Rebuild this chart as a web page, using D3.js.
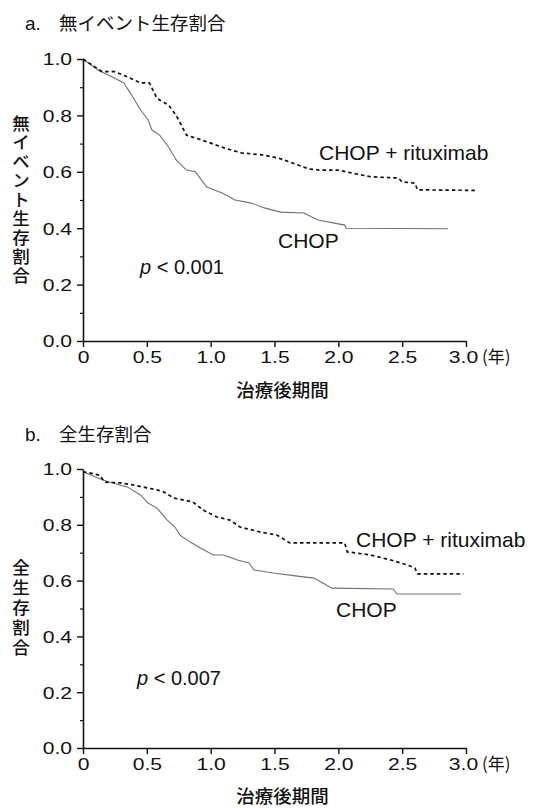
<!DOCTYPE html>
<html>
<head>
<meta charset="utf-8">
<script src="https://cdn.jsdelivr.net/npm/d3@7"></script>
<style>
  html, body { margin: 0; padding: 0; background: #fff; }
  svg { display: block; }
</style>
</head>
<body>
<svg id="chart" width="542" height="808"></svg>
<script>
// ---- data ----
const xTicks = [0, 0.5, 1.0, 1.5, 2.0, 2.5, 3.0];
const yTicks = [0, 0.2, 0.4, 0.6, 0.8, 1.0];
const yMinorTicks = [0.1, 0.3, 0.5, 0.7, 0.9];
const seriesNames = ["CHOP + rituximab", "CHOP"];

// panel a: event-free survival
const efsRchopTime = [0, 0.15, 0.25, 0.35, 0.45, 0.52, 0.58, 0.67, 0.73, 0.77, 0.81, 0.88, 0.98, 1.11, 1.24, 1.40, 1.53, 1.66, 1.77, 1.85, 2.00, 2.10, 2.26, 2.47, 2.50, 2.60, 2.62, 3.08];
const efsRchopSurv = [1.0, 0.955, 0.955, 0.936, 0.915, 0.915, 0.86, 0.837, 0.80, 0.766, 0.73, 0.72, 0.705, 0.684, 0.667, 0.66, 0.649, 0.628, 0.61, 0.606, 0.606, 0.596, 0.582, 0.578, 0.564, 0.56, 0.536, 0.534];
const efsChopTime = [0, 0.12, 0.23, 0.32, 0.37, 0.45, 0.51, 0.54, 0.60, 0.67, 0.73, 0.81, 0.88, 0.97, 1.09, 1.19, 1.32, 1.42, 1.55, 1.73, 1.84, 2.05, 2.06, 2.86];
const efsChopSurv = [1.0, 0.96, 0.936, 0.915, 0.88, 0.82, 0.784, 0.748, 0.73, 0.688, 0.642, 0.606, 0.60, 0.546, 0.525, 0.50, 0.489, 0.472, 0.457, 0.454, 0.429, 0.411, 0.40, 0.398];

// panel b: overall survival
const osRchopTime = [0, 0.05, 0.13, 0.17, 0.29, 0.39, 0.58, 0.63, 0.71, 0.86, 0.94, 1.05, 1.15, 1.23, 1.39, 1.52, 1.62, 2.05, 2.07, 2.25, 2.41, 2.54, 2.60, 2.62, 2.98];
const osRchopSurv = [0.99, 0.986, 0.978, 0.953, 0.95, 0.943, 0.925, 0.918, 0.896, 0.882, 0.853, 0.828, 0.817, 0.792, 0.774, 0.763, 0.735, 0.735, 0.703, 0.692, 0.674, 0.656, 0.645, 0.624, 0.624];
const osChopTime = [0, 0.16, 0.35, 0.45, 0.51, 0.58, 0.66, 0.72, 0.76, 0.84, 0.92, 1.02, 1.10, 1.21, 1.30, 1.34, 1.49, 1.68, 1.81, 1.95, 2.43, 2.46, 2.96];
const osChopSurv = [0.99, 0.96, 0.935, 0.907, 0.878, 0.86, 0.817, 0.792, 0.763, 0.738, 0.717, 0.692, 0.692, 0.674, 0.663, 0.638, 0.627, 0.616, 0.609, 0.573, 0.57, 0.552, 0.552];

const titles = ["a.", "無イベント生存割合", "b.", "全生存割合"];
const yTitles = ["無イベント生存割合", "全生存割合"];
const xTitle = "治療後期間";
const xUnit = "(年)";
const pValues = ["0.001", "0.007"];

// ---- drawing ----
const svg = d3.select("#chart");
const LAT = "'Liberation Sans', Arial, Helvetica, sans-serif";
const CJK = "'Noto Sans CJK JP', 'Noto Sans CJK SC', sans-serif";

function zip(t, s) { return t.map((d, i) => ({ t: d, s: s[i] })); }

const panels = [
  {
    title: [titles[0], titles[1]], titleY: 30,
    yTitle: yTitles[0], yTitleTop: 115, yTitleSpacing: 1.4,
    x0: 83, x1: 466, yTop: 59, yBot: 341,
    rchop: zip(efsRchopTime, efsRchopSurv), chop: zip(efsChopTime, efsChopSurv),
    rLabel: [319, 160], cLabel: [278, 248], p: [140, 274], pv: pValues[0],
    xTitleY: 397
  },
  {
    title: [titles[2], titles[3]], titleY: 441,
    yTitle: yTitles[1], yTitleTop: 559, yTitleSpacing: 2.5,
    x0: 83, x1: 466, yTop: 469, yBot: 748,
    rchop: zip(osRchopTime, osRchopSurv), chop: zip(osChopTime, osChopSurv),
    rLabel: [356, 547], cLabel: [336, 617], p: [137, 685], pv: pValues[1],
    xTitleY: 803
  }
];

panels.forEach(P => {
  const x = d3.scaleLinear().domain([0, 3]).range([P.x0, P.x1]);
  const y = d3.scaleLinear().domain([0, 1]).range([P.yBot, P.yTop]);
  const g = svg.append("g");

  // panel title
  g.append("text").attr("x", 25).attr("y", P.titleY)
    .attr("font-family", LAT).attr("font-size", 19).attr("fill", "#111")
    .text(P.title[0]);
  g.append("text").attr("x", 59).attr("y", P.titleY)
    .attr("font-family", CJK).attr("font-size", 18.5).attr("fill", "#111")
    .text(P.title[1]);

  // y axis
  const ya = d3.axisLeft(y).tickValues(yTicks).tickSize(6).tickSizeOuter(0)
    .tickFormat(d3.format(".1f"));
  const yg = g.append("g").attr("transform", `translate(${P.x0},0)`).call(ya);
  yg.select(".domain").attr("stroke", "#111").attr("stroke-width", 1.6);
  yg.selectAll(".tick line").attr("stroke", "#111").attr("stroke-width", 1.4);
  yg.selectAll(".tick text")
    .attr("font-family", LAT).attr("font-size", 16.5).attr("fill", "#111")
    .attr("x", -11 / 1.28).attr("dy", "0.36em")
    .attr("transform", "scale(1.28,1)");
  // minor y ticks
  const ym = d3.axisLeft(y).tickValues(yMinorTicks).tickSize(3).tickSizeOuter(0).tickFormat("");
  const ymg = g.append("g").attr("transform", `translate(${P.x0},0)`).call(ym);
  ymg.select(".domain").remove();
  ymg.selectAll(".tick line").attr("stroke", "#111").attr("stroke-width", 1.2);

  // x axis
  const xa = d3.axisBottom(x).tickValues(xTicks).tickSize(6).tickSizeOuter(0)
    .tickFormat(d => d === 0 ? "0" : d3.format(".1f")(d));
  const xg = g.append("g").attr("transform", `translate(0,${P.yBot})`).call(xa);
  xg.select(".domain").attr("stroke", "#111").attr("stroke-width", 1.6);
  xg.selectAll(".tick line").attr("stroke", "#111").attr("stroke-width", 1.4);
  xg.selectAll(".tick text")
    .attr("font-family", LAT).attr("font-size", 16.5).attr("fill", "#111")
    .attr("y", 22).attr("dy", 0)
    .attr("transform", "scale(1.28,1)");
  xg.selectAll(".tick text").filter(d => d === 3).attr("x", -3 / 1.28);
  g.append("text").attr("x", x(3) + 16).attr("y", P.yBot + 22)
    .attr("font-family", CJK).attr("font-size", 17).attr("fill", "#111")
    .text(xUnit);

  // y axis title: vertical writing, one text element
  g.append("text")
    .attr("x", 21).attr("y", P.yTitleTop)
    .attr("writing-mode", "vertical-rl")
    .attr("letter-spacing", P.yTitleSpacing)
    .attr("font-family", CJK).attr("font-size", 17.5).attr("font-weight", 500)
    .attr("fill", "#111").text(P.yTitle);
  // x axis title
  g.append("text").attr("x", (x(0) + x(3)) / 2 + 8).attr("y", P.xTitleY)
    .attr("text-anchor", "middle").attr("font-family", CJK).attr("font-size", 18.5)
    .attr("font-weight", 500).attr("fill", "#111").text(xTitle);

  // curves
  const line = d3.line().x(d => x(d.t)).y(d => y(d.s)).curve(d3.curveLinear);
  g.append("path").datum(P.chop).attr("d", line)
    .attr("fill", "none").attr("stroke", "#707070").attr("stroke-width", 1.1);
  g.append("path").datum(P.rchop).attr("d", line)
    .attr("fill", "none").attr("stroke", "#111").attr("stroke-width", 1.7)
    .attr("stroke-dasharray", "3.5,3");

  // labels
  g.append("text").attr("x", P.rLabel[0]).attr("y", P.rLabel[1])
    .attr("font-family", LAT).attr("font-size", 21).attr("fill", "#111")
    .text(seriesNames[0]);
  g.append("text").attr("x", P.cLabel[0]).attr("y", P.cLabel[1])
    .attr("font-family", LAT).attr("font-size", 21).attr("fill", "#111")
    .text(seriesNames[1]);
  const pt = g.append("text").attr("x", P.p[0]).attr("y", P.p[1])
    .attr("font-family", LAT).attr("font-size", 20).attr("fill", "#111");
  pt.append("tspan").attr("font-style", "italic").text("p");
  pt.append("tspan").text(" < " + P.pv);
});
</script>
</body>
</html>
